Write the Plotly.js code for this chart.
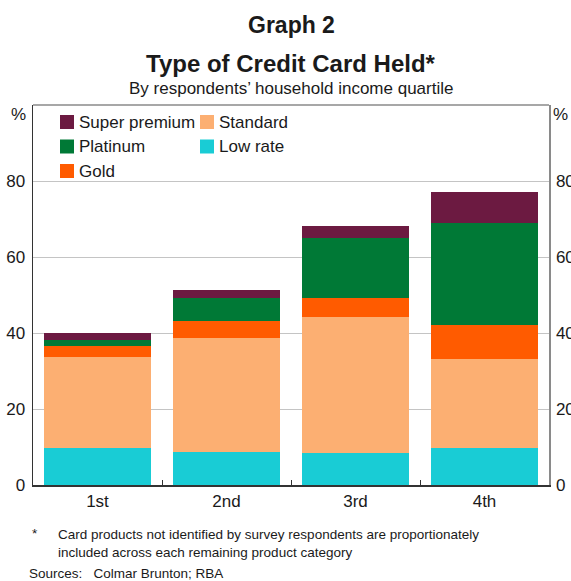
<!DOCTYPE html>
<html><head><meta charset="utf-8">
<script src="https://cdn.plot.ly/plotly-3.0.1.min.js"></script>
<style>body{margin:0;padding:0;background:#fff}#chart{width:571px;height:581px}</style>
</head><body><div id="chart"></div>
<script>
const quartiles = ['1st', '2nd', '3rd', '4th'];
const lowRate = [9.8, 8.7, 8.4, 9.7];
const standard = [24.0, 30.1, 35.8, 23.5];
const gold = [2.8, 4.4, 5.0, 8.8];
const platinum = [1.6, 6.1, 15.8, 26.9];
const superPremium = [1.8, 2.0, 3.2, 8.2];
const yTicks = [0, 20, 40, 60, 80];
const seriesNames = ['Low rate', 'Standard', 'Gold', 'Platinum', 'Super premium'];
const seriesColors = ['#19CCD5', '#FCAF72', '#FF5B00', '#007936', '#6C1A41'];
const seriesValues = [lowRate, standard, gold, platinum, superPremium];
// legend layout order (row-major, two columns)
const legendOrder = ['Super premium', 'Standard', 'Platinum', 'Low rate', 'Gold'];

const font = 'Arial, "Liberation Sans", sans-serif';
const W = 571, H = 581, M = {l: 33, r: 22, t: 105, b: 96};
const pw = W - M.l - M.r, ph = H - M.t - M.b;
const px2x = p => (p - M.l) / pw;
const px2y = p => (H - M.b - p) / ph;

const data = seriesNames.map((n, i) => ({
  type: 'bar', name: n, x: quartiles, y: seriesValues[i],
  marker: {color: seriesColors[i], line: {width: 0}}, showlegend: false, hoverinfo: 'skip'
}));
data.push({type: 'scatter', x: [quartiles[0]], y: [null], yaxis: 'y2', showlegend: false, hoverinfo: 'skip'});

const shapes = [
  {type: 'line', xref: 'paper', yref: 'paper', x0: 0, x1: 1, y0: 1, y1: 1, line: {color: '#8a8a8a', width: 1.5}}
];
const annotations = [
  {text: '<b>Graph 2</b>', y: 1, yshift: 80, font: {size: 23}},
  {text: '<b>Type of Credit Card Held*</b>', y: 1, yshift: 42, font: {size: 24}},
  {text: 'By respondents’ household income quartile', y: 1, yshift: 17, font: {size: 17}},
].map(a => Object.assign({xref: 'paper', yref: 'paper', x: 0.5, showarrow: false, yanchor: 'middle'}, a));

annotations.push(
  {text: '%', xref: 'paper', yref: 'paper', x: 0, xanchor: 'right', xshift: -5, y: 1, yanchor: 'middle', yshift: -9, showarrow: false, font: {size: 17}},
  {text: '%', xref: 'paper', yref: 'paper', x: 1, xanchor: 'left', xshift: 2, y: 1, yanchor: 'middle', yshift: -9, showarrow: false, font: {size: 17}},
  {text: '*', xref: 'paper', yref: 'paper', x: px2x(30), xanchor: 'left', y: px2y(533), yanchor: 'middle', showarrow: false, font: {size: 13.5}},
  {text: 'Card products not identified by survey respondents are proportionately<br>included across each remaining product category', align: 'left',
    xref: 'paper', yref: 'paper', x: px2x(56), xanchor: 'left', y: px2y(543), yanchor: 'middle', showarrow: false, font: {size: 13.5}},
  {text: 'Sources:   Colmar Brunton; RBA', xref: 'paper', yref: 'paper', x: px2x(27), xanchor: 'left', y: px2y(573), yanchor: 'middle', showarrow: false, font: {size: 13.5}}
);

// manual two-column legend
legendOrder.forEach((n, k) => {
  const col = k % 2, row = Math.floor(k / 2);
  const sx = 60 + col * 140, cy = 122 + row * 24.5;
  const c = seriesColors[seriesNames.indexOf(n)];
  shapes.push({type: 'rect', xref: 'paper', yref: 'paper', x0: px2x(sx), x1: px2x(sx + 14),
    y0: px2y(cy - 7), y1: px2y(cy + 7), fillcolor: c, line: {width: 0}});
  annotations.push({text: n, xref: 'paper', yref: 'paper', x: px2x(sx + 17), xanchor: 'left',
    y: px2y(cy), yanchor: 'middle', showarrow: false, font: {size: 17}});
});

const layout = {
  width: W, height: H, margin: M,
  barmode: 'stack', bargap: 0.163, showlegend: false,
  paper_bgcolor: '#fff', plot_bgcolor: '#fff',
  font: {family: font, size: 17, color: '#1a1a1a'},
  xaxis: {showline: true, linecolor: '#333', linewidth: 1.5, ticks: 'inside', tickson: 'boundaries',
    ticklen: 5, tickcolor: '#333', showgrid: false, tickfont: {size: 17}, fixedrange: true},
  yaxis: {range: [0, 100], tickvals: yTicks, showline: true, linecolor: '#333', linewidth: 1.5,
    showgrid: true, gridcolor: '#c4c4c4', gridwidth: 1, ticks: '', ticklabelstandoff: 3,
    zeroline: false, tickfont: {size: 17}, fixedrange: true},
  yaxis2: {range: [0, 100], tickvals: yTicks, overlaying: 'y', side: 'right', showline: true,
    linecolor: '#8a8a8a', linewidth: 1.5, showgrid: false, ticks: '', ticklabelstandoff: 2,
    zeroline: false, tickfont: {size: 17}, fixedrange: true},
  shapes: shapes,
  annotations: annotations
};
Plotly.newPlot('chart', data, layout, {staticPlot: true, displayModeBar: false});
</script></body></html>
